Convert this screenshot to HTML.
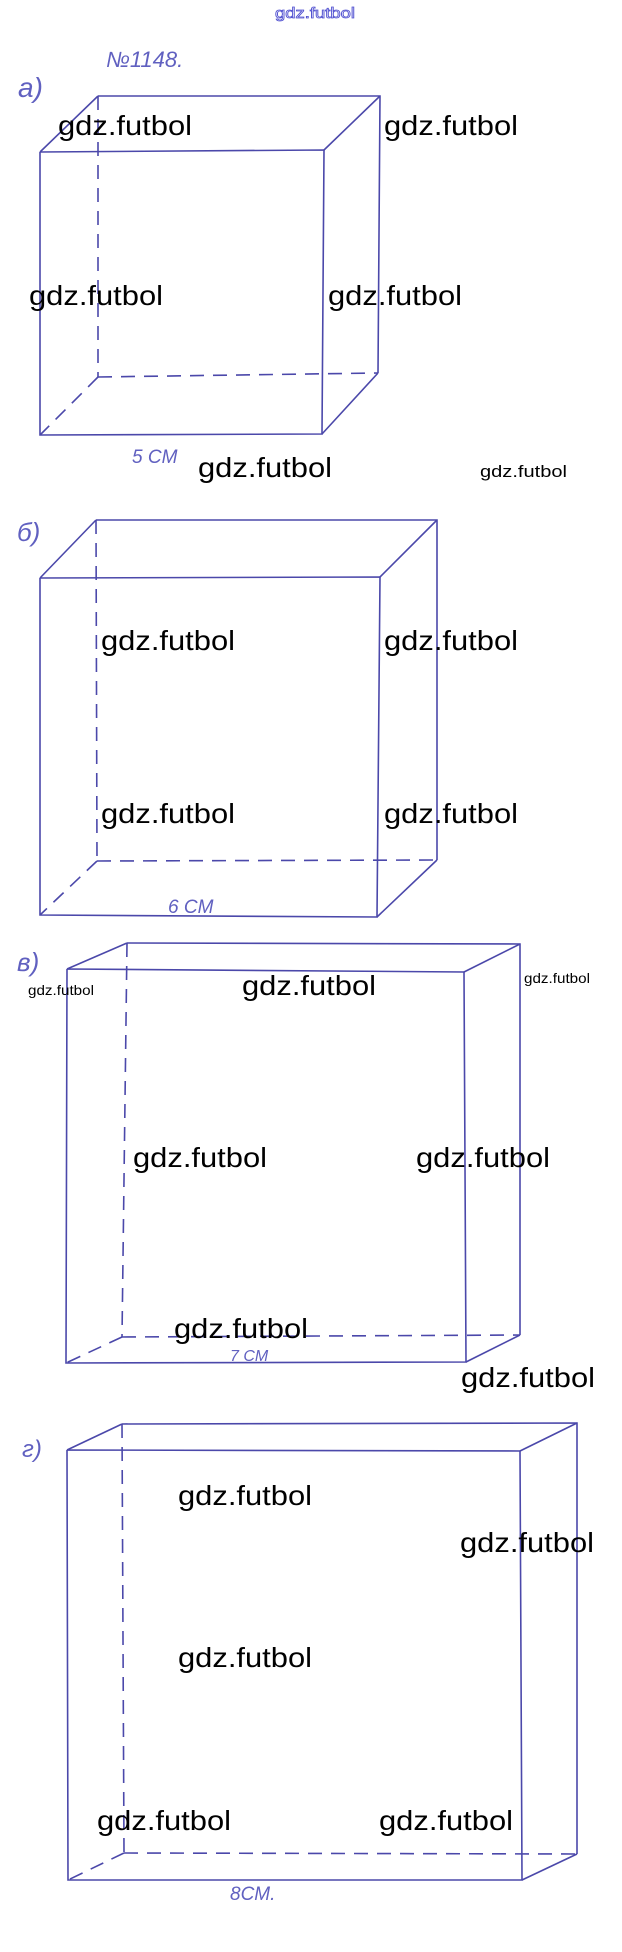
<!DOCTYPE html>
<html><head><meta charset="utf-8"><style>
html,body{margin:0;padding:0;background:#fff;}
svg{display:block}
.w{font-family:"Liberation Sans",sans-serif;font-size:28px;fill:#000;}
.s{font-family:"Liberation Sans",sans-serif;font-size:17px;fill:#000;}
.t{font-family:"Liberation Sans",sans-serif;font-size:14px;fill:#000;}
.h{font-family:"Liberation Sans",sans-serif;font-style:italic;fill:#6060c0;}
</style></head><body>
<svg width="622" height="1952" viewBox="0 0 622 1952" xmlns="http://www.w3.org/2000/svg">
<g stroke="#4b48aa" stroke-width="1.6" fill="none">
<!-- a -->
<polyline points="40,152 324,150 322,434 40,435 40,152"/>
<polyline points="98,96 380,96 378,373"/>
<line x1="40" y1="152" x2="98" y2="96"/><line x1="324" y1="150" x2="380" y2="96"/><line x1="322" y1="434" x2="378" y2="373"/>
<g stroke-dasharray="14,9"><line x1="98" y1="96" x2="98" y2="377"/><line x1="98" y1="377" x2="378" y2="373"/><line x1="98" y1="377" x2="40" y2="435"/></g>
<!-- b -->
<polyline points="40,578 380,577 377,917 40,915 40,578"/>
<polyline points="96,520 437,520 437,860"/>
<line x1="40" y1="578" x2="96" y2="520"/><line x1="380" y1="577" x2="437" y2="520"/><line x1="377" y1="917" x2="437" y2="860"/>
<g stroke-dasharray="14,9"><line x1="96" y1="520" x2="97" y2="861"/><line x1="97" y1="861" x2="437" y2="860"/><line x1="97" y1="861" x2="40" y2="915"/></g>
<!-- v -->
<polyline points="67,969 464,972 466,1362 66,1363 67,969"/>
<polyline points="127,943 520,944 520,1335"/>
<line x1="67" y1="969" x2="127" y2="943"/><line x1="464" y1="972" x2="520" y2="944"/><line x1="466" y1="1362" x2="520" y2="1335"/>
<g stroke-dasharray="14,9"><line x1="127" y1="943" x2="122" y2="1337"/><line x1="122" y1="1337" x2="520" y2="1335"/><line x1="122" y1="1337" x2="66" y2="1363"/></g>
<!-- g -->
<polyline points="67,1450 520,1451 522,1880 68,1880 67,1450"/>
<polyline points="122,1424 577,1423 577,1854"/>
<line x1="67" y1="1450" x2="122" y2="1424"/><line x1="520" y1="1451" x2="577" y2="1423"/><line x1="522" y1="1880" x2="577" y2="1854"/>
<g stroke-dasharray="14,9"><line x1="122" y1="1424" x2="124" y2="1853"/><line x1="124" y1="1853" x2="577" y2="1854"/><line x1="124" y1="1853" x2="68" y2="1880"/></g>
</g>
<text x="275" y="18" font-family="Liberation Sans,sans-serif" font-size="15" textLength="80" lengthAdjust="spacingAndGlyphs" fill="#fff" stroke="#5050d0" stroke-width="0.8">gdz.futbol</text>
<text class="h" x="106" y="67" font-size="22">№1148.</text>
<text class="h" x="18" y="97" font-size="28">a)</text>
<text class="h" x="132" y="463" font-size="19">5 CM</text>
<text class="h" x="17" y="541" font-size="26">б)</text>
<text class="h" x="168" y="913" font-size="19">6 CM</text>
<text class="h" x="17" y="971" font-size="26">в)</text>
<text class="h" x="230" y="1361" font-size="16">7 CM</text>
<text class="h" x="22" y="1457" font-size="24">г)</text>
<text class="h" x="230" y="1900" font-size="19">8CM.</text>
<g textLength="134">
<text class="w" x="58" y="135" textLength="134" lengthAdjust="spacingAndGlyphs">gdz.futbol</text>
<text class="w" x="384" y="135" textLength="134" lengthAdjust="spacingAndGlyphs">gdz.futbol</text>
<text class="w" x="29" y="305" textLength="134" lengthAdjust="spacingAndGlyphs">gdz.futbol</text>
<text class="w" x="328" y="305" textLength="134" lengthAdjust="spacingAndGlyphs">gdz.futbol</text>
<text class="w" x="198" y="477" textLength="134" lengthAdjust="spacingAndGlyphs">gdz.futbol</text>
<text class="s" x="480" y="477" textLength="87" lengthAdjust="spacingAndGlyphs">gdz.futbol</text>
<text class="w" x="101" y="650" textLength="134" lengthAdjust="spacingAndGlyphs">gdz.futbol</text>
<text class="w" x="384" y="650" textLength="134" lengthAdjust="spacingAndGlyphs">gdz.futbol</text>
<text class="w" x="101" y="823" textLength="134" lengthAdjust="spacingAndGlyphs">gdz.futbol</text>
<text class="w" x="384" y="823" textLength="134" lengthAdjust="spacingAndGlyphs">gdz.futbol</text>
<text class="t" x="28" y="995" textLength="66" lengthAdjust="spacingAndGlyphs">gdz.futbol</text>
<text class="w" x="242" y="995" textLength="134" lengthAdjust="spacingAndGlyphs">gdz.futbol</text>
<text class="t" x="524" y="983" textLength="66" lengthAdjust="spacingAndGlyphs">gdz.futbol</text>
<text class="w" x="133" y="1167" textLength="134" lengthAdjust="spacingAndGlyphs">gdz.futbol</text>
<text class="w" x="416" y="1167" textLength="134" lengthAdjust="spacingAndGlyphs">gdz.futbol</text>
<text class="w" x="174" y="1338" textLength="134" lengthAdjust="spacingAndGlyphs">gdz.futbol</text>
<text class="w" x="461" y="1387" textLength="134" lengthAdjust="spacingAndGlyphs">gdz.futbol</text>
<text class="w" x="178" y="1505" textLength="134" lengthAdjust="spacingAndGlyphs">gdz.futbol</text>
<text class="w" x="460" y="1552" textLength="134" lengthAdjust="spacingAndGlyphs">gdz.futbol</text>
<text class="w" x="178" y="1667" textLength="134" lengthAdjust="spacingAndGlyphs">gdz.futbol</text>
<text class="w" x="97" y="1830" textLength="134" lengthAdjust="spacingAndGlyphs">gdz.futbol</text>
<text class="w" x="379" y="1830" textLength="134" lengthAdjust="spacingAndGlyphs">gdz.futbol</text>
</g>
</svg>
</body></html>
